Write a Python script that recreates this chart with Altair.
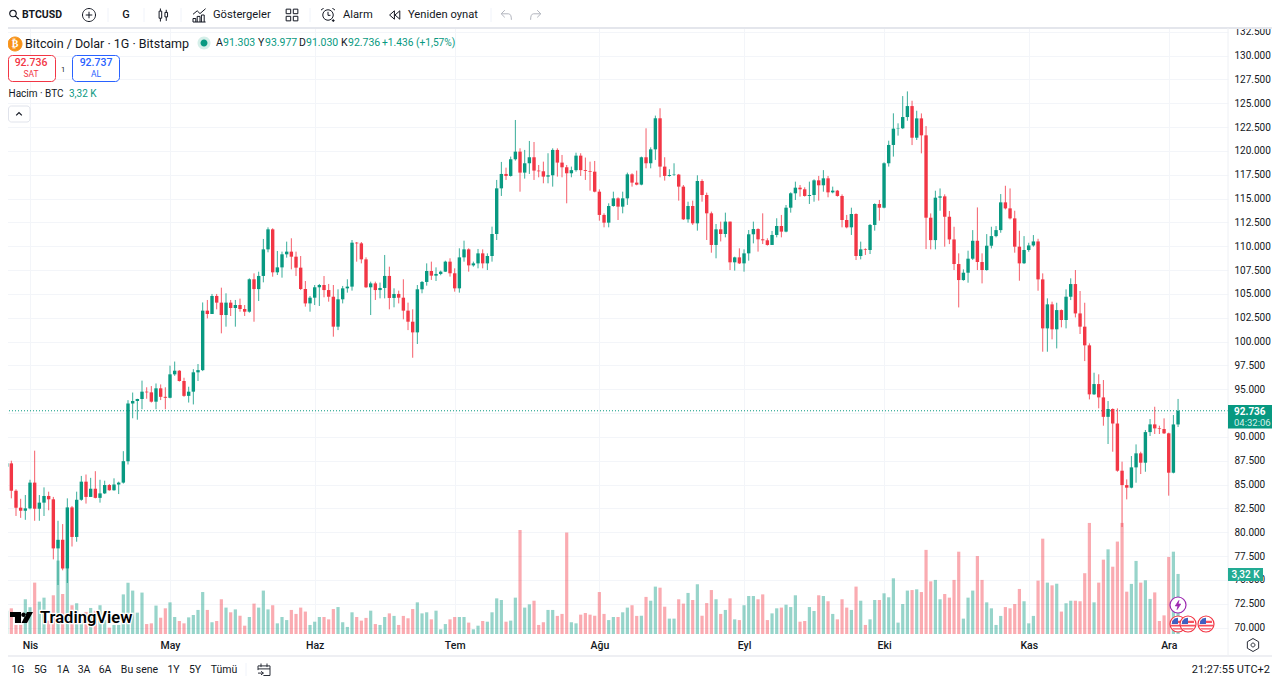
import altair as alt
import pandas as pd

FIRST_DAY = "2025-03-26"
FIRST_OPEN_K = 87.46
CLOSE_K = [
86.87,87.22,84.35,82.57,82.25,82.5,85.2,82.46,83.1,83.8,
83.45,78.3,79.2,76.2,82.6,79.5,83.4,85.3,83.7,84.56,
83.6,84.07,84.95,84.4,85.0,85.2,87.45,93.5,93.76,93.97,
94.74,94.67,93.69,95.09,94.2,94.1,96.56,96.94,95.86,94.3,
94.74,96.77,97.0,103.24,102.89,104.78,104.08,102.78,104.08,103.52,
103.83,103.41,103.13,106.53,105.5,106.88,109.67,111.77,107.26,107.78,
109.15,109.43,108.9,107.75,105.51,104.0,104.6,105.69,105.93,105.4,
104.7,101.56,104.43,105.58,105.76,110.37,110.3,108.62,105.69,106.1,
105.4,105.62,106.88,104.57,104.99,104.6,103.24,102.08,100.96,105.48,
106.25,107.4,106.91,107.09,107.33,108.38,107.16,105.58,108.83,109.67,
107.99,108.2,109.25,108.2,108.97,111.28,116.07,117.58,117.37,119.12,
119.92,117.72,118.7,119.33,117.93,117.86,117.3,117.44,120.1,118.77,
118.28,117.65,117.98,119.5,117.98,117.89,117.82,115.72,113.28,112.47,
114.22,115.02,114.15,115.02,117.54,116.67,116.46,119.33,118.7,120.16,
123.42,118.35,117.37,117.47,117.51,116.25,112.82,114.22,112.4,116.84,
115.37,113.45,110.13,111.77,111.28,112.58,108.31,108.83,108.2,109.25,
111.25,111.8,110.72,110.62,110.13,111.18,112.12,111.53,114.04,115.55,
116.14,115.97,115.27,115.37,116.91,116.39,117.12,115.65,115.83,115.27,
112.75,111.98,113.38,108.97,109.67,109.6,112.23,114.43,114.04,118.7,
120.62,122.33,122.37,123.55,124.7,121.38,123.41,121.63,112.99,110.64,
115.09,115.23,113.09,110.71,108.13,106.45,107.22,108.69,110.57,108.34,
107.5,110.05,111.06,111.69,114.6,113.97,112.92,109.95,108.2,109.6,
110.08,110.5,106.52,101.38,103.9,101.28,103.3,102.26,104.7,106.03,
102.95,101.56,99.6,94.46,95.54,94.14,92.1,92.92,91.4,86.45,
84.94,84.67,86.8,88.27,87.29,90.5,91.31,90.89,90.82,90.37,
86.24,91.303,92.736]
HIGH_K = [
88.27,87.74,87.5,84.5,83.5,83.9,85.5,88.55,83.9,84.7,
84.25,83.7,81.2,80.85,83.55,82.75,84.25,85.9,86.05,85.7,
86.4,85.5,85.4,85.05,85.65,85.3,88.5,93.85,94.65,94.0,
95.9,95.2,95.33,95.6,95.5,95.2,97.47,97.9,97.0,96.2,
95.26,97.1,97.64,104.1,104.36,104.99,104.99,105.65,105.06,104.36,
104.36,104.5,103.83,106.63,107.15,107.33,110.76,111.98,111.88,109.5,
109.43,110.48,110.83,109.43,108.97,106.35,104.78,105.93,106.04,106.87,
106.04,105.93,105.48,105.83,106.53,110.65,110.44,110.44,108.83,106.28,
106.28,106.18,109.08,107.85,105.58,105.34,106.53,104.08,103.38,105.93,
106.35,108.2,108.38,107.78,107.44,108.48,108.73,107.68,109.78,110.58,
109.78,108.38,109.71,109.67,109.25,112.05,116.95,118.84,118.24,119.4,
123.24,120.27,120.1,121.04,120.93,118.52,118.87,119.75,120.27,120.27,
119.57,118.52,118.35,119.81,119.75,119.3,118.87,118.94,115.97,113.45,
114.5,115.72,115.13,115.72,117.72,117.65,117.93,119.4,122.37,120.37,
123.7,124.47,119.33,118.07,118.7,117.58,116.42,114.67,114.78,117.44,
117.02,115.62,113.63,112.33,112.58,113.52,112.58,108.9,109.78,109.67,
111.7,112.58,111.88,113.45,110.83,111.6,112.93,113.28,114.32,115.65,
116.77,116.42,116.18,116.77,117.02,117.37,117.98,117.37,116.25,115.9,
115.44,113.28,114.04,113.45,110.48,109.78,112.33,114.5,114.85,118.8,
121.07,123.94,122.89,125.75,126.24,125.26,124.21,123.93,122.6,113.44,
115.82,116.06,115.44,113.69,112.04,109.25,107.57,109.53,111.69,114.07,
109.25,111.27,112.04,112.11,115.47,116.34,116.06,113.72,111.62,111.06,
110.36,111.17,110.78,107.15,104.53,104.18,104.07,103.37,105.47,106.63,
107.5,105.3,104.07,99.81,96.73,96.56,95.96,93.76,92.99,92.99,
87.4,85.54,87.99,89.21,88.44,90.72,91.87,93.16,91.17,91.94,
90.44,92.29,93.977]
LOW_K = [
85.89,85.89,83.55,81.7,81.5,81.3,82.4,81.2,81.2,81.7,
82.3,77.15,74.46,76.0,74.67,78.5,79.0,83.3,83.0,83.7,
83.55,83.1,84.0,84.35,84.35,84.0,85.1,87.1,91.95,91.8,
92.9,94.0,93.6,92.9,93.86,92.9,94.04,96.4,95.8,94.2,
93.6,93.4,95.86,96.9,102.43,102.89,103.38,100.86,101.56,102.68,
101.56,103.13,102.68,103.03,102.08,104.25,106.21,109.36,106.8,106.98,
106.7,108.8,107.57,106.87,105.4,103.66,103.13,103.83,103.73,104.64,
104.18,100.51,101.2,104.0,105.13,105.34,108.38,108.2,105.62,102.78,
104.36,104.53,104.53,103.38,103.59,104.0,102.33,101.2,98.3,99.74,
105.06,105.86,106.46,106.35,106.95,107.3,106.81,105.23,105.13,108.38,
107.33,107.85,107.68,107.68,107.5,108.38,110.65,115.27,116.95,117.3,
118.98,115.72,117.09,117.58,116.95,117.23,116.6,116.6,116.25,117.3,
117.23,114.5,117.23,117.82,117.37,116.95,115.83,115.65,112.68,111.98,
111.98,114.15,112.75,113.45,114.33,116.25,116.39,116.39,118.17,118.17,
119.05,117.23,116.88,117.3,117.37,114.78,112.75,112.47,112.23,111.63,
114.67,110.65,109.32,108.73,110.5,110.93,107.5,107.44,108.13,107.33,
108.48,110.3,109.43,110.23,110.06,110.13,110.93,110.93,111.46,113.52,
114.85,115.2,115.2,114.43,114.67,114.78,115.72,115.13,115.55,115.2,
111.98,111.88,111.18,108.55,108.62,109.08,109.18,111.63,112.68,113.97,
118.35,119.4,121.6,122.29,123.16,120.61,121.14,119.74,109.7,109.67,
109.67,113.72,109.95,110.22,107.5,103.58,106.38,106.17,108.55,107.5,
106.1,107.43,109.77,110.93,111.41,113.86,112.81,109.32,106.38,108.13,
109.42,109.95,105.33,98.93,98.93,100.23,99.28,101.49,101.38,104.35,
102.53,100.79,97.95,93.93,94.39,92.99,91.17,89.25,88.44,86.34,
80.54,83.44,84.6,85.19,86.1,86.34,90.09,90.3,90.3,90.3,
83.83,86.17,91.03]
VOLUME_K = [
1.55,1.29,1.42,.50,.50,1.92,1.48,2.84,1.79,2.01,
.74,2.14,4.06,2.21,4.09,1.59,1.70,.77,1.22,1.44,
1.29,1.59,.77,.35,.50,.50,2.19,2.84,2.40,1.18,
2.29,.55,.59,1.57,.90,1.42,1.75,.94,.72,.59,
.92,1.05,1.33,2.32,1.33,.65,.72,1.92,1.46,1.20,
1.36,1.01,.46,.94,1.68,1.46,2.40,1.36,1.59,.59,
.94,.77,1.33,1.11,1.46,1.24,.50,.68,.94,.94,
.81,1.38,1.49,.65,.39,1.20,.94,.74,.89,1.29,
.55,.50,.94,1.14,1.00,.50,1.00,.87,1.38,1.75,
1.14,1.20,.81,1.29,.26,.55,.81,.94,.94,.94,
.63,.26,.46,.72,.68,1.20,1.97,1.88,.68,.74,
2.01,5.75,1.46,1.64,1.84,.50,.65,1.33,1.33,1.00,
1.11,5.61,.65,.59,1.07,1.16,1.07,1.01,2.32,1.11,
.77,.94,.94,1.20,1.46,1.59,1.00,1.01,2.05,1.84,
2.62,2.56,1.51,.85,.85,1.92,1.68,2.27,1.88,2.75,
1.01,1.71,2.43,1.92,1.11,1.33,1.97,.81,.77,1.59,
2.10,2.10,1.92,2.19,.77,1.14,1.42,1.46,1.62,1.49,
2.14,.68,.72,1.49,1.27,2.14,2.10,1.81,1.11,.81,
1.92,1.46,1.33,2.62,1.84,.50,.81,1.88,1.88,2.25,
2.03,3.08,.63,1.66,2.40,2.43,2.47,2.32,4.65,2.91,
2.99,1.92,2.21,2.01,2.99,4.55,.85,2.01,2.40,4.31,
2.99,1.75,1.42,.50,1.00,1.49,1.42,1.66,2.49,1.81,
.59,1.00,2.95,5.27,2.84,2.69,2.78,1.24,1.70,1.84,
1.84,1.81,3.36,6.14,1.75,2.84,4.11,4.68,3.72,5.11,
6.14,2.34,2.77,4.04,2.84,2.97,1.94,2.30,.72,1.03,
4.26,4.55,3.32]
MONTH_STARTS = ["2025-04-01","2025-05-01","2025-06-01","2025-07-01","2025-08-01","2025-09-01","2025-10-01","2025-11-01","2025-12-01"]
MONTH_NAMES = ["Oca","Şub","Mar","Nis","May","Haz","Tem","Ağu","Eyl","Eki","Kas","Ara"]
PRICE_TICKS = [70000 + 2500 * k for k in range(26)]
X_DOMAIN = ["2025-03-25T13:43:00Z", "2025-12-13T16:48:00Z"]
Y_DOMAIN = [69320, 132890]
VOL_DOMAIN = [0, 33.5]

GREEN, RED, INK, GRID, EDGE = "#089981", "#f23645", "#131722", "#f3f5f9", "#e0e3eb"
FONT = "Roboto"
TOP = 28

def ms(s):
    return int(pd.Timestamp(s, tz="UTC").timestamp() * 1000)

dates = pd.date_range(FIRST_DAY, periods=len(CLOSE_K), freq="D")
opens = [FIRST_OPEN_K] + CLOSE_K[:-1]
df = pd.DataFrame({
    "date": dates.strftime("%Y-%m-%dT00:00:00Z"),
    "open": [v * 1000 for v in opens],
    "close": [v * 1000 for v in CLOSE_K],
    "high": [v * 1000 for v in HIGH_K],
    "low": [v * 1000 for v in LOW_K],
    "volume": VOLUME_K,
})
df["dir"] = ["up" if c >= o else "down" for o, c in zip(df["open"], df["close"])]

xs = alt.Scale(type="utc", domain=[ms(d) for d in X_DOMAIN], nice=False, padding=0)
ys = alt.Scale(domain=Y_DOMAIN, nice=False, zero=False)
vs = alt.Scale(domain=VOL_DOMAIN, nice=False, zero=False)
col = alt.Color("dir:N", scale=alt.Scale(domain=["up", "down"], range=[GREEN, RED]), legend=None)
month_expr = "[" + ",".join(f"'{m}'" for m in MONTH_NAMES) + "][utcmonth(datum.value)]"
x_axis = alt.Axis(values=[ms(d) for d in MONTH_STARTS], labelExpr=month_expr, title=None, grid=True,
                  gridColor=GRID, gridWidth=1, domain=False, ticks=False, labelFont=FONT, labelFontSize=10.5,
                  labelFontWeight=500, labelColor=INK, labelPadding=6, labelFlush=False, labelOverlap=False)
y_axis = alt.Axis(values=PRICE_TICKS, orient="right", title=None, grid=True, gridColor=GRID, gridWidth=1,
                  domain=False, ticks=False, labelFont=FONT, labelFontSize=10, labelColor=INK,
                  labelPadding=6, labelAlign="left", labelBaseline="middle", labelFlush=False, labelOverlap=False,
                  labelExpr="replace(format(datum.value, ','), ',', '.')")
x_enc = alt.X("date:T", scale=xs, axis=x_axis)

base = alt.Chart(df)
volume = base.mark_bar(size=3.2, opacity=0.42).encode(
    x=x_enc, y=alt.Y("volume:Q", scale=vs, axis=None), color=col)
wicks = base.mark_rule(strokeWidth=1, opacity=0.8).encode(
    x=x_enc, y=alt.Y("low:Q", scale=ys, axis=None), y2="high:Q", color=col)
bodies = base.mark_bar(size=3.4).encode(
    x=x_enc, y=alt.Y("open:Q", scale=ys, axis=y_axis), y2="close:Q", color=col)
last = df.iloc[[-1]]
price_line = alt.Chart(last).mark_rule(color=GREEN, strokeWidth=1, strokeDash=[1, 2]).encode(
    y=alt.Y("close:Q", scale=ys, axis=None), x=alt.value(0), x2=alt.value(1228))

one = alt.Data(values=[{}])
ui = []

def label(text, x, y, size=11, color=INK, weight=400, align="left", font=FONT, **kw):
    ui.append(alt.Chart(one).mark_text(text=text, font=font, fontSize=size, color=color, fontWeight=weight,
                                       align=align, baseline="middle", **kw)
              .encode(x=alt.value(x), y=alt.value(y - TOP)))

def line(x1, y1, x2, y2, color=EDGE, width=1):
    ui.append(alt.Chart(one).mark_rule(color=color, strokeWidth=width)
              .encode(x=alt.value(x1), x2=alt.value(x2), y=alt.value(y1 - TOP), y2=alt.value(y2 - TOP)))

def box(x1, y1, x2, y2, fill="white", stroke=None, radius=0, width=1):
    kw = {"stroke": stroke, "strokeWidth": width} if stroke else {}
    ui.append(alt.Chart(one).mark_rect(color=fill, cornerRadius=radius, **kw)
              .encode(x=alt.value(x1), x2=alt.value(x2), y=alt.value(y1 - TOP), y2=alt.value(y2 - TOP)))

def icon(path, x, y, px, color=INK, width=1, fill=None):
    kw = {"filled": True, "fill": fill, "stroke": color} if fill else {"filled": False, "stroke": color}
    ui.append(alt.Chart(one).mark_point(shape=path, size=px * px, strokeWidth=width, opacity=1, **kw)
              .encode(x=alt.value(x), y=alt.value(y - TOP)))

# toolbars and frame
box(0, 0, 1280, 27)
line(0, 28, 1280, 28, "#e4e6ec", 2)
line(0, 656, 1280, 656, "#e8eaef", 1.5)
line(1228, 28, 1228, 656, "#eef0f4", 1)
for xd in (108, 144, 181, 310, 491):
    line(xd, 8, xd, 22, "#f0f3fa", 1)

TB = 15  # toolbar text row, kept clear of the page margin
CIRC = "M-1,0 a1,1 0 1,0 2,0 a1,1 0 1,0 -2,0"
icon("M-0.85,-0.2 a0.65,0.65 0 1,0 1.3,0 a0.65,0.65 0 1,0 -1.3,0 M0.27,0.27 L0.95,0.95", 14, 14.5, 10, INK, 1.2)
label("BTCUSD", 22, TB, 10.5, INK, 700)
icon(CIRC + " M0,-0.5 L0,0.5 M-0.5,0 L0.5,0", 89, 15, 13, INK, 1)
label("G", 126, TB, 11, INK, 500, "center")
icon("M-0.6,-0.6 h0.4 v1.1 h-0.4 z M-0.4,-1 v0.4 M-0.4,0.5 v0.5 M0.3,-0.4 h0.4 v0.7 h-0.4 z M0.5,-0.8 v0.4 M0.5,0.3 v0.6", 163, 15, 13, INK, 1)
icon("M-1,1 V0.5 H-0.6 V1 M-0.4,1 V0.2 H0 V1 M0.2,1 V0 H0.6 V1 M-1,1 H0.8 M-1,-0.1 L-0.4,-0.6 L0,-0.2 L0.8,-0.9", 200, 15, 14, INK, 1)
label("Göstergeler", 213, TB, 11.2, INK, 400)
icon("M-0.9,-0.9 h0.7 v0.7 h-0.7 z M0.2,-0.9 h0.7 v0.7 h-0.7 z M-0.9,0.2 h0.7 v0.7 h-0.7 z M0.2,0.2 h0.7 v0.7 h-0.7 z", 292, 15, 13, INK, 1)
icon("M-0.75,0 a0.75,0.75 0 1,0 1.5,0 a0.75,0.75 0 1,0 -1.5,0 M0,-0.45 V0.05 H0.35 M-1,-0.7 L-0.6,-1 M1,-0.7 L0.6,-1 M0.75,0.6 V1 M0.55,0.8 H0.95", 328, 15, 14, INK, 1)
label("Alarm", 343, TB, 11.2, INK, 400)
icon("M-0.1,-0.7 L-0.9,0 L-0.1,0.7 z M0.8,-0.7 L0,0 L0.8,0.7 z", 395, 15, 12, INK, 1)
label("Yeniden oynat", 408, TB, 11.2, INK, 400)
icon("M-0.2,-0.8 L-0.8,-0.2 L-0.2,0.4 M-0.8,-0.2 H0.4 Q0.9,-0.2 0.9,0.8", 506, 15, 12, "#b2b5be", 1)
icon("M0.2,-0.8 L0.8,-0.2 L0.2,0.4 M0.8,-0.2 H-0.4 Q-0.9,-0.2 -0.9,0.8", 536, 15, 12, "#b2b5be", 1)

# legend block
icon(CIRC, 15, 44, 14, "#f7931a", 1, "#f7931a")
label("₿", 15, 44, 10, "white", 700, "center", "DejaVu Sans")
label("Bitcoin / Dolar · 1G · Bitstamp", 25, 44, 12.5, INK, 400)
icon(CIRC, 204, 43, 13, "#d5efe9", 0, "#d5efe9")
icon(CIRC, 204, 43, 7, GREEN, 0, GREEN)
for tag, xt, value, xv in (("A", 216, "91.303", 223), ("Y", 258, "93.977", 265), ("D", 299, "91.030", 306), ("K", 341, "92.736", 348)):
    label(tag, xt, 43, 10.5, INK, 400)
    label(value, xv, 43, 10.5, GREEN, 400)
label("+1.436 (+1,57%)", 382, 43, 10.2, GREEN, 400)
box(8.5, 55.5, 55.5, 81.5, "white", RED, 4)
label("92.736", 31, 63, 10.5, RED, 500, "center")
label("SAT", 31, 74, 8.5, RED, 400, "center")
label("1", 63, 70, 7.5, INK, 400, "center")
box(72.5, 55.5, 119.5, 81.5, "white", "#2962ff", 4)
label("92.737", 96, 63, 10.5, "#2962ff", 500, "center")
label("AL", 96, 74, 8.5, "#2962ff", 400, "center")
label("Hacim · BTC", 8.5, 94, 10, INK, 400)
label("3,32 K", 69, 94, 10, GREEN, 400)
box(8.5, 106, 30, 122, "white", EDGE, 3)
icon("M-0.8,0.4 L0,-0.4 L0.8,0.4", 19, 114, 7, INK, 1.2)

# price tags
box(1228, 405, 1273, 428.5, GREEN)
label("92.736", 1234, 411.5, 10, "white", 700)
label("04:32:06", 1234, 422.5, 9.5, "#d3efe9", 400)
box(1228, 568, 1263, 581, "#22ab94")
label("3,32 K", 1245.5, 574.7, 10, "white", 500, "center")

# watermark
icon("M-1,-0.48 H-0.04 V0.48 H-0.57 V-0.04 H-1 z M-0.02,-0.24 a0.2,0.2 0 1,0 0.4,0 a0.2,0.2 0 1,0 -0.4,0 M0.48,-0.48 H1 L0.48,0.48 H0 z",
     21.5, 617.5, 23, "#000000", 0, "#000000")
label("TradingView", 40, 618, 16.5, "white", 600, stroke="white", strokeWidth=2.5)
label("TradingView", 40, 618, 16.5, "#000000", 600)

# bottom toolbar
for text, xc in (("1G", 18), ("5G", 40.5), ("1A", 63), ("3A", 84), ("6A", 105), ("Bu sene", 139.5), ("1Y", 173.5), ("5Y", 195), ("Tümü", 224)):
    label(text, xc, 670, 10.5, INK, 400, "center")
line(246, 663, 246, 676, "#f0f3fa", 1)
icon("M-1,-0.6 H1 V1 H-0.1 M-1,-0.6 V0.1 M-0.5,-1 V-0.4 M0.5,-1 V-0.4 M-1,-0.1 H1 M-1,0.6 H-0.1 M-0.5,0.3 L-0.1,0.6 L-0.5,0.9", 264, 669.5, 12, "#2a2e39", 1)
label("21:27:55 UTC+2", 1270, 670, 11, INK, 400, "right")
icon("M0,-1 L0.87,-0.5 V0.5 L0,1 L-0.87,0.5 V-0.5 z M-0.3,0 a0.3,0.3 0 1,0 0.6,0 a0.3,0.3 0 1,0 -0.6,0", 1253, 645, 13, "#2a2e39", 1)

# event markers
icon(CIRC, 1178, 605, 16, "#9c27b0", 1.2, "white")
icon("M0.2,-1 L-0.6,0.2 H0 L-0.2,1 L0.6,-0.2 H0 z", 1178, 605, 9, "#9c27b0", 0.8, "#9c27b0")
for xc in (1178, 1188, 1206):
    icon(CIRC, xc, 624, 16, RED, 1.2, "white")
    icon("M-0.85,-0.45 L0.85,-0.45 L0.85,-0.15 L-0.85,-0.15 z M-1,0.1 L1,0.1 L1,0.35 L-1,0.35 z M-0.85,0.6 L0.85,0.6 L0.6,0.8 L-0.6,0.8 z", xc, 624, 14, "#f7525f", 0, "#f7525f")
    icon("M-0.5,-0.8 L0,-0.9 V0 H-0.9 Q-0.9,-0.5 -0.5,-0.8 z", xc, 624, 14, "#3f5fc0", 0, "#3f5fc0")

chart = alt.layer(volume, price_line, wicks, bodies, *ui).resolve_scale(y="independent").properties(
    width=1228, height=606,
    padding={"left": -8, "top": TOP - 8, "right": 44, "bottom": 42},
    autosize=alt.AutoSizeParams(type="none"),
    background="white",
).configure_view(stroke=None)
chart.save("out.html", embed_options={"renderer": "svg", "actions": False})
